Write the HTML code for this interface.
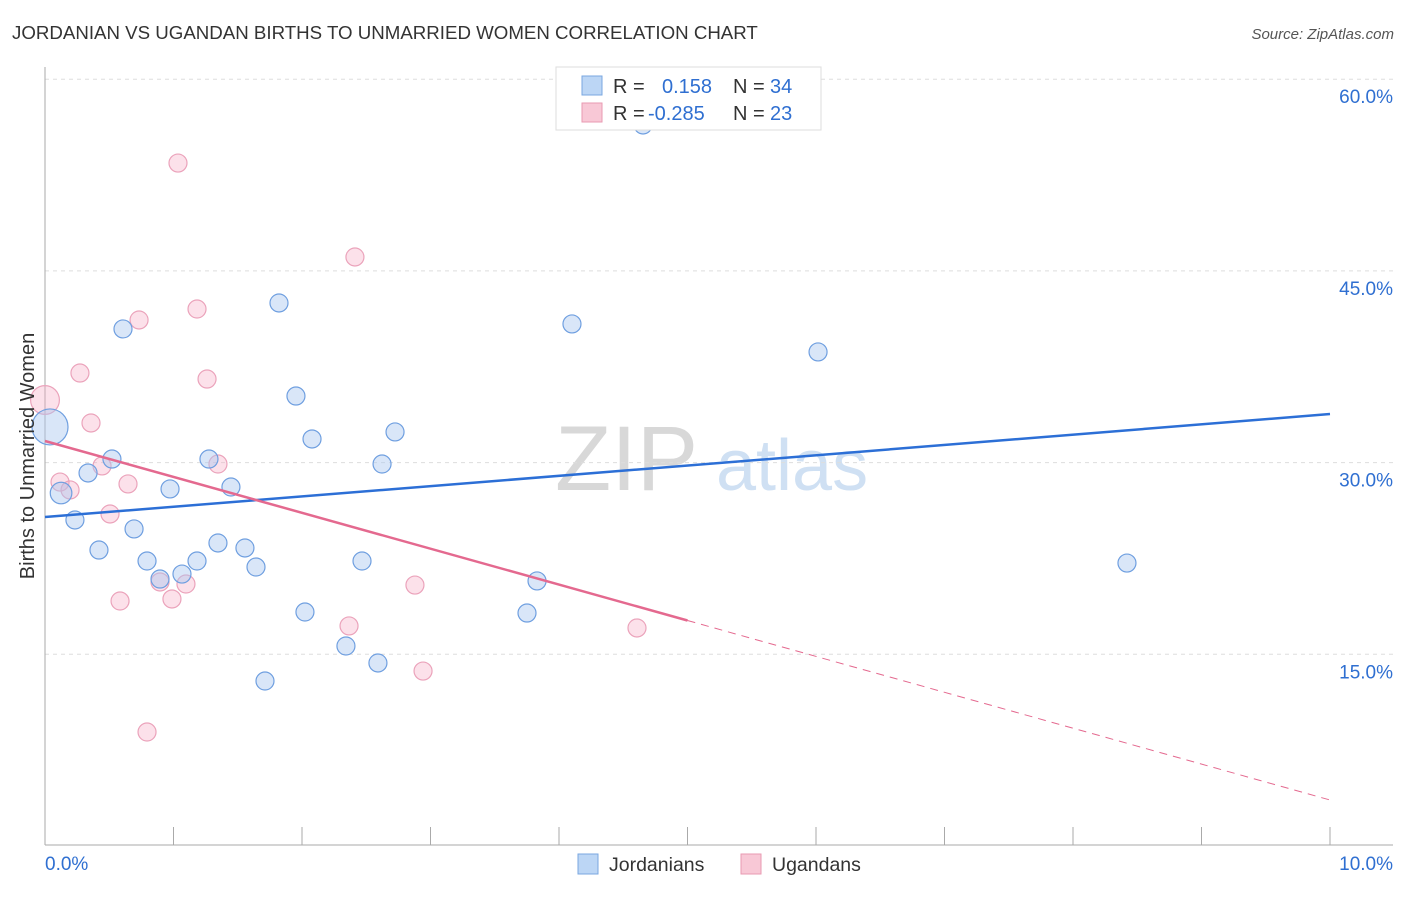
<!DOCTYPE html>
<html><head><meta charset="utf-8"><style>
body{margin:0;background:#fff;font-family:"Liberation Sans",sans-serif;}
svg text{font-family:"Liberation Sans",sans-serif;}
</style></head><body>
<svg id="chart" width="1406" height="892">
<text x="12" y="39" font-size="18.7" fill="#333">JORDANIAN VS UGANDAN BIRTHS TO UNMARRIED WOMEN CORRELATION CHART</text>
<text x="1394" y="39" font-size="15" fill="#555" text-anchor="end" font-style="italic">Source: ZipAtlas.com</text>
<g>
<text x="555" y="490" font-size="92" fill="#d8d8d8" font-family="Liberation Serif">ZIP</text>
<text x="716" y="490" font-size="72" fill="#cfe0f3">atlas</text>
</g>
<g id="grid"></g>
<g id="axes"></g>
<g id="marks"></g>
<text transform="translate(34,456) rotate(-90)" font-size="20" fill="#333" text-anchor="middle">Births to Unmarried Women</text>
<g>
<rect x="556" y="67" width="265" height="63" fill="#fff" stroke="#ddd"/>
<rect x="582" y="76" width="20" height="19" fill="#bcd6f5" stroke="#7aa7e0"/>
<rect x="582" y="103" width="20" height="19" fill="#f8c8d6" stroke="#e89ab2"/>
<text x="613" y="93" font-size="20" fill="#333">R = <tspan x="662" fill="#2f6fd1">0.158</tspan><tspan x="733" fill="#333">N = </tspan><tspan x="770" fill="#2f6fd1">34</tspan></text>
<text x="613" y="120" font-size="20" fill="#333">R = <tspan x="648" fill="#2f6fd1">-0.285</tspan><tspan x="733" fill="#333">N = </tspan><tspan x="770" fill="#2f6fd1">23</tspan></text>
</g>
<g>
<rect x="578" y="854" width="20" height="20" fill="#bcd6f5" stroke="#7aa7e0"/>
<text x="609" y="871" font-size="19.5" fill="#333">Jordanians</text>
<rect x="741" y="854" width="20" height="20" fill="#f8c8d6" stroke="#e89ab2"/>
<text x="772" y="871" font-size="19.5" fill="#333">Ugandans</text>
</g>
</svg>
<script>
const blueX=[4.654,0.607,1.821,4.101,6.016,1.953,0.039,2.078,2.724,0.521,0.335,1.276,2.623,0.125,0.973,1.447,0.233,0.693,0.420,1.346,0.794,1.183,1.556,1.642,2.467,0.895,1.066,3.829,8.420,2.023,3.751,2.342,2.591,1.712];
const blueY=[56.42,40.46,42.49,40.85,38.66,35.21,32.79,31.85,32.40,30.28,29.19,30.28,29.89,27.62,27.94,28.09,25.51,24.81,23.16,23.71,22.30,22.30,23.32,21.83,22.30,20.89,21.28,20.74,22.14,18.31,18.23,15.65,14.32,12.91];
const blueSize=[1,1,1,1,1,1,2,1,1,1,1,1,1,1.2,1,1,1,1,1,1,1,1,1,1,1,1,1,1,1,1,1,1,1,1];
const pinkX=[1.035,2.412,1.183,0.732,0.272,1.261,0.0,0.358,0.444,1.346,0.117,0.195,0.646,0.506,0.895,1.097,0.988,0.584,2.879,2.366,4.607,2.942,0.794];
const pinkY=[53.44,46.09,42.02,41.16,37.01,36.54,34.90,33.10,29.74,29.89,28.48,27.86,28.33,25.98,20.66,20.50,19.33,19.17,20.42,17.22,17.06,13.69,8.92];
const pinkSize=[1,1,1,1,1,1,1.6,1,1,1,1,1,1,1,1,1,1,1,1,1,1,1,1];
const blueTrend=[25.74,33.80];
const pinkTrend=[31.69,3.60];
const yTicks=[15,30,45,60];
const xTickLabels=["0.0%","10.0%"];
const NS="http://www.w3.org/2000/svg";
const X=v=>45+v*128.5, Y=v=>846-v/0.07825;
function mk(tag,attrs,parent){const e=document.createElementNS(NS,tag);for(const k in attrs)e.setAttribute(k,attrs[k]);document.getElementById(parent).appendChild(e);return e;}
yTicks.forEach(t=>{
 const l=mk('line',{x1:45,x2:1393,y1:Y(t),y2:Y(t),stroke:'#ddd','stroke-dasharray':'4,4'},'grid');
 
 
 const tx=mk('text',{x:1393,y:Y(t)+24,'font-size':19,fill:'#2f6fd1','text-anchor':'end'},'grid');
 tx.textContent=t.toFixed(1)+'%';
 
 
});
let a=mk('line',{x1:45,x2:45,y1:67,y2:845,stroke:'#aaa'},'axes');


a=mk('line',{x1:45,x2:1393,y1:845,y2:845,stroke:'#aaa'},'axes');


for(let i=1;i<=10;i++){const t=mk('line',{x1:X(i),x2:X(i),y1:827,y2:845,stroke:'#aaa'},'axes');
 
 }
let xl=mk('text',{x:45,y:870,'font-size':19,fill:'#2f6fd1'},'axes');xl.textContent=xTickLabels[0];


xl=mk('text',{x:1393,y:870,'font-size':19,fill:'#2f6fd1','text-anchor':'end'},'axes');xl.textContent=xTickLabels[1];


pinkX.forEach((x,i)=>{const c=mk('circle',{cx:X(x),cy:Y(pinkY[i]),r:9*pinkSize[i],fill:'rgba(245,170,195,0.35)',stroke:'#eba3bb','stroke-width':1.2},'marks');
 
 });
blueX.forEach((x,i)=>{const c=mk('circle',{cx:X(x),cy:Y(blueY[i]),r:9*blueSize[i],fill:'rgba(170,200,240,0.45)',stroke:'#6f9fe0','stroke-width':1.2},'marks');
 
 });
let ln=mk('line',{x1:X(0),y1:Y(blueTrend[0]),x2:X(10),y2:Y(blueTrend[1]),stroke:'#2c6fd6','stroke-width':2.5},'marks');


const pm=pinkTrend[0]+(pinkTrend[1]-pinkTrend[0])*0.5;
ln=mk('line',{x1:X(0),y1:Y(pinkTrend[0]),x2:X(5),y2:Y(pm),stroke:'#e4698f','stroke-width':2.5},'marks');


ln=mk('line',{x1:X(5),y1:Y(pm),x2:X(10),y2:Y(pinkTrend[1]),stroke:'#e4698f','stroke-width':1,'stroke-dasharray':'8,6'},'marks');


</script>
</body></html>
